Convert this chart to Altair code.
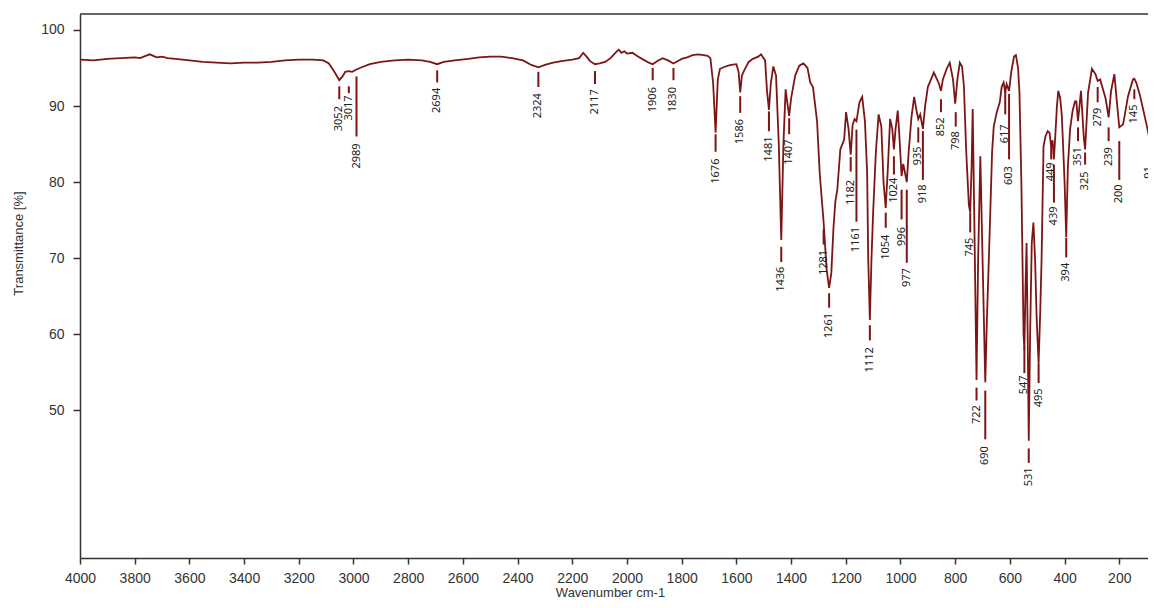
import altair as alt
import pandas as pd

# ---- spectrum (wavenumber cm-1, transmittance %) ----
wavenumber = [
    4000, 3950, 3900, 3850, 3800, 3780, 3760, 3745, 3720, 3700, 3680, 3650, 3600, 3550, 3500,
    3450, 3400, 3350, 3300, 3250, 3200, 3150, 3110, 3090, 3070, 3052, 3040, 3030, 3017, 3005,
    2989, 2970, 2940, 2900, 2850, 2800, 2750, 2720, 2694, 2670, 2630, 2580, 2540, 2500, 2460,
    2420, 2380, 2350, 2324, 2300, 2270, 2240, 2200, 2175, 2160, 2150, 2135, 2117, 2100, 2080,
    2060, 2040, 2030, 2020, 2010, 2000, 1980, 1960, 1940, 1920, 1906, 1890, 1870, 1850, 1830,
    1815, 1800, 1780, 1760, 1740, 1720, 1705, 1695, 1685, 1676, 1668, 1660, 1640, 1620, 1600,
    1592, 1586, 1580, 1570, 1555, 1540, 1520, 1510, 1495, 1488, 1481, 1474, 1465, 1455, 1445,
    1436, 1428, 1420, 1414, 1407, 1400, 1385, 1370, 1355, 1340, 1330, 1320, 1305, 1295, 1281,
    1270, 1261, 1253, 1245, 1238, 1231, 1220, 1206, 1199, 1190, 1182, 1175, 1168, 1161, 1150,
    1140, 1130, 1122, 1118, 1112, 1106, 1100, 1090, 1080, 1070, 1062, 1054, 1046, 1038, 1030,
    1024, 1018, 1010, 1004, 996, 990, 985, 977, 970, 960, 950, 942, 935, 928, 918,
    910, 900, 885, 878, 860, 852, 845, 830, 820, 808, 800, 792, 783, 775, 768,
    760, 750, 745, 740, 736, 730, 722, 716, 708, 700, 690, 684, 677, 665, 659,
    648, 637, 630, 623, 617, 612, 603, 595, 585, 578, 570, 565, 558, 554, 550,
    547, 543, 539, 535, 531, 526, 520, 514, 508, 502, 495, 489, 484, 477, 470,
    462, 455, 449, 444, 439, 434, 428, 423, 416, 410, 400, 394, 388, 380, 371,
    362, 357, 351, 340, 330, 325, 314, 300, 287, 279, 270, 250, 239, 230, 218,
    210, 200, 186, 168, 150, 145, 138, 125, 113, 100, 91, 80,
]
transmittance = [
    96.1, 96.0, 96.2, 96.3, 96.4, 96.3, 96.6, 96.8, 96.4, 96.5, 96.3, 96.2, 96.0, 95.8, 95.7,
    95.6, 95.7, 95.7, 95.8, 96.0, 96.1, 96.1, 96.0, 95.6, 94.5, 93.4, 93.9, 94.5, 94.6, 94.5,
    94.8, 95.1, 95.5, 95.8, 96.0, 96.1, 96.0, 95.8, 95.5, 95.8, 96.0, 96.2, 96.4, 96.5, 96.5,
    96.3, 96.0, 95.4, 95.1, 95.4, 95.7, 95.9, 96.1, 96.3, 97.0, 96.6, 95.9, 95.5, 95.6, 95.8,
    96.3, 97.1, 97.4, 97.0, 97.2, 96.9, 97.0, 96.5, 96.1, 95.7, 95.5, 95.9, 96.3, 96.0, 95.6,
    95.9, 96.2, 96.4, 96.7, 96.8, 96.7, 96.6, 96.3, 93.0, 86.5, 93.5, 94.9, 95.2, 95.4, 95.5,
    94.5, 91.8, 94.0, 94.8, 95.8, 96.2, 96.5, 96.8, 96.0, 92.0, 89.5, 93.0, 95.2, 94.0, 85.0,
    72.4, 85.0, 92.2, 90.5, 88.7, 91.0, 94.0, 95.3, 95.6, 95.0, 93.1, 92.5, 88.0, 81.0, 74.7,
    68.5, 66.1, 68.0, 74.0, 77.5, 79.0, 84.3, 85.6, 89.2, 87.0, 83.6, 87.5, 88.3, 88.0, 90.5,
    91.2, 88.0, 81.3, 70.0, 61.9, 70.0, 76.0, 84.0, 88.9, 87.3, 80.0, 76.6, 82.0, 88.3, 87.0,
    84.3, 87.0, 89.4, 86.0, 80.8, 82.4, 81.5, 80.0, 84.0, 88.5, 91.2, 89.5, 88.3, 88.9, 87.0,
    90.0, 92.5, 93.8, 94.4, 93.0, 92.0, 93.5, 95.0, 95.7, 93.5, 90.3, 93.5, 95.7, 95.2, 92.6,
    84.3, 77.0, 76.0, 82.0, 89.6, 75.0, 54.0, 70.0, 83.4, 70.0, 53.7, 62.0, 69.8, 84.0, 87.3,
    89.2, 90.5, 92.5, 93.1, 91.8, 92.9, 92.0, 94.5, 96.5, 96.7, 95.0, 91.8, 80.0, 70.0, 60.0,
    58.0, 66.0, 72.0, 60.0, 46.0, 60.0, 72.0, 74.7, 70.0, 62.0, 56.2, 63.0, 70.0, 84.7, 86.0,
    86.7, 86.5, 84.6, 85.5, 83.0, 86.0, 90.0, 92.0, 91.0, 88.7, 80.0, 72.8, 82.0, 86.9, 89.3,
    90.6, 90.6, 88.0, 92.0, 86.0, 84.3, 91.8, 94.9, 94.2, 93.3, 93.5, 91.0, 88.5, 92.0, 94.2,
    91.0, 87.2, 87.6, 91.3, 93.5, 93.6, 93.1, 91.5, 89.6, 87.5, 86.0, 84.3,
]

# ---- peak annotations: label, leader line (top/bottom) and label top, in % units ----
peak_wn = [3052, 3017, 2989, 2694, 2324, 2117, 1906, 1830, 1676, 1586, 1481, 1407, 1436,
           1281, 1261, 1182, 1161, 1112, 1054, 1024, 996, 977, 935, 918, 852, 798, 745,
           722, 690, 617, 603, 547, 531, 495, 449, 439, 394, 351, 325, 279, 239, 200, 145, 91]
peak_line_top = [92.6, 92.6, 93.9, 94.7, 94.5, 94.6, 95.0, 95.0, 86.3, 91.3, 89.3, 88.4, 71.5,
                 73.8, 65.4, 83.3, 86.9, 61.2, 76.0, 83.4, 79.0, 79.0, 87.2, 86.7, 90.9, 89.2, 76.0,
                 53.0, 52.6, 92.0, 91.6, 58.3, 45.0, 56.2, 84.7, 82.3, 72.7, 87.2, 83.9, 92.5, 87.2, 85.4, 92.2, 84.6]
peak_line_bottom = [90.9, 91.7, 86.0, 93.1, 92.5, 92.9, 93.4, 93.4, 84.0, 89.1, 86.7, 86.3, 69.5,
                    71.8, 63.5, 81.4, 74.8, 59.2, 74.0, 81.0, 75.1, 69.4, 85.2, 80.3, 89.2, 87.3, 73.4,
                    51.3, 46.2, 88.9, 83.0, 54.9, 43.1, 53.6, 83.0, 77.3, 70.1, 85.4, 82.3, 90.5, 85.4, 80.3, 90.9, 83.0]
peak_label_top = [90.0, 91.4, 85.1, 92.4, 91.7, 92.2, 92.5, 92.5, 83.1, 88.3, 86.0, 85.6, 68.9,
                  71.1, 62.8, 80.3, 74.1, 58.3, 73.1, 80.6, 74.1, 68.7, 84.7, 79.7, 88.5, 86.7, 72.7,
                  50.7, 45.3, 87.6, 82.1, 54.6, 42.5, 52.9, 82.6, 76.8, 69.4, 84.6, 81.4, 89.8, 84.6, 79.7, 90.2, 82.1]

x_ticks = list(range(200, 4001, 200))
y_ticks = [50, 60, 70, 80, 90, 100]

RED = "#7d1515"
AXIS = "#333333"
W, H = 1068, 544

spec = pd.DataFrame({"wn": wavenumber, "t": transmittance})
peaks = pd.DataFrame({
    "wn": peak_wn,
    "top": peak_line_top,
    "bottom": peak_line_bottom,
    "label": peak_label_top,
    "name": [str(v) for v in peak_wn],
})

xs = alt.Scale(domain=[4000, 95], nice=False, zero=False)
ys = alt.Scale(domain=[30.6, 102.1], nice=False, zero=False)
XT = "Wavenumber cm-1"
YT = "Transmittance [%]"

x_axis = alt.Axis(values=x_ticks, title=XT, format="d", tickSize=6, labelPadding=7,
                  labelFlush=False, labelOverlap=False, titleX=530, titleY=34,
                  titleAlign="center", titleBaseline="middle")
y_axis = alt.Axis(values=y_ticks, title=YT, format="d", tickSize=7, labelPadding=9,
                  titleX=-62, titleY=229, titleAngle=270, titleAlign="center",
                  titleBaseline="middle")

line = alt.Chart(spec).mark_line(color=RED, strokeWidth=1.8, clip=True).encode(
    x=alt.X("wn:Q", scale=xs, axis=x_axis, title=XT),
    y=alt.Y("t:Q", scale=ys, axis=y_axis, title=YT),
)

leaders = alt.Chart(peaks).mark_rule(color=RED, strokeWidth=2, clip=True).encode(
    x=alt.X("wn:Q", title=XT),
    y=alt.Y("top:Q", title=YT),
    y2="bottom:Q",
)

labels = alt.Chart(peaks).mark_text(
    angle=270, align="right", baseline="middle", font="Noto Sans", fontSize=11,
    color="#222222",
).encode(
    x=alt.X("wn:Q", title=XT),
    y=alt.Y("label:Q", title=YT),
    text="name:N",
)

top_border = alt.Chart(pd.DataFrame({"k": [0]})).mark_rule(color=AXIS, strokeWidth=1.5).encode(
    x=alt.value(0), x2=alt.value(W), y=alt.value(0)
)

chart = (
    alt.layer(line, leaders, labels, top_border)
    .properties(
        width=W,
        height=H,
        autosize=alt.AutoSizeParams(type="none"),
        padding={"left": 72, "top": 6, "right": 0, "bottom": 40},
        background="white",
    )
    .configure_view(stroke=None)
    .configure_axis(
        grid=False,
        domainColor=AXIS,
        domainWidth=1.5,
        tickColor=AXIS,
        tickWidth=1.5,
        labelFont="Liberation Sans",
        labelFontSize=14,
        labelColor="#333333",
        titleFont="Liberation Sans",
        titleFontSize=13,
        titleFontWeight="normal",
        titleColor="#333333",
    )
)

chart.save("out.html", embed_options={"renderer": "svg", "actions": False})
